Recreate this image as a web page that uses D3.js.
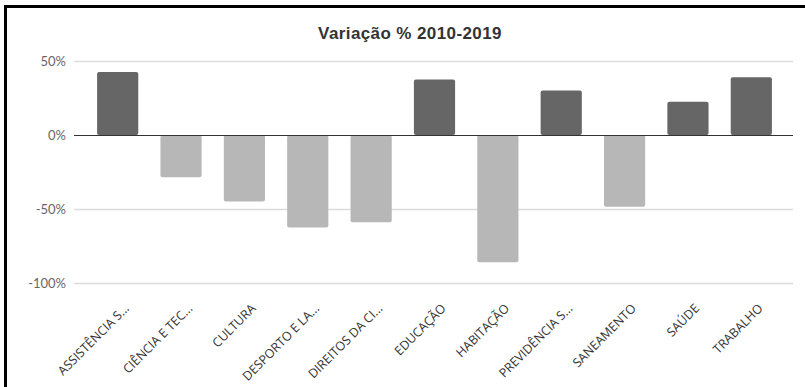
<!DOCTYPE html>
<html>
<head>
<meta charset="utf-8">
<script src="https://cdn.jsdelivr.net/npm/d3@7"></script>
<style>
	body { margin: 0; background: #fff; }
	#chart { width: 805px; height: 387px; }
</style>
</head>
<body>
<div id="chart"></div>
<script>

var categories = ["ASSISTÊNCIA S...", "CIÊNCIA E TEC...", "CULTURA", "DESPORTO E LA...", "DIREITOS DA CI...",
	"EDUCAÇÃO", "HABITAÇÃO", "PREVIDÊNCIA S...", "SANEAMENTO", "SAÚDE", "TRABALHO"];
var values = [42.5, -28.5, -45, -62.5, -59, 37.5, -86, 30, -48.5, 22.5, 39];
var yTicks = [50, 0, -50, -100];
var title = "Variação % 2010-2019";

var options = {
	width: 805, height: 387,
	plot: { left: 74, right: 793, top: 61, bottom: 283 },
	band: { left: 86, right: 783 }
};

var svg = d3.select("#chart").append("svg")
	.attr("width", options.width)
	.attr("height", options.height);

// frame (top + left only)
svg.append("line")
	.attr("x1", 4).attr("y1", 6.5).attr("x2", options.width).attr("y2", 6.5)
	.attr("stroke", "#000").attr("stroke-width", 3);
svg.append("line")
	.attr("x1", 5.5).attr("y1", 5).attr("x2", 5.5).attr("y2", options.height)
	.attr("stroke", "#000").attr("stroke-width", 3);

var x = d3.scaleBand()
	.domain(categories)
	.range([options.band.left, options.band.right])
	.paddingInner(0.35)
	.paddingOuter(0.175);

var y = d3.scaleLinear()
	.domain([-100, 50])
	.range([options.plot.bottom, options.plot.top]);

// title
svg.append("text")
	.attr("x", 410)
	.attr("y", 39)
	.attr("text-anchor", "middle")
	.style("font", "bold 17px 'Liberation Sans', Arial, sans-serif")
	.style("letter-spacing", "0.4px")
	.style("fill", "#333")
	.text(title);

// grid lines
svg.append("g")
	.selectAll("line")
	.data(yTicks.filter(function(d) { return d !== 0; }))
	.enter().append("line")
	.attr("x1", options.plot.left)
	.attr("x2", options.plot.right)
	.attr("y1", function(d) { return Math.round(y(d)) + 0.5; })
	.attr("y2", function(d) { return Math.round(y(d)) + 0.5; })
	.attr("stroke", "#dcdcdc")
	.attr("stroke-width", 1.5);

// y axis labels
svg.append("g")
	.selectAll("text")
	.data(yTicks)
	.enter().append("text")
	.attr("x", 66)
	.attr("y", function(d) { return y(d); })
	.attr("dy", "0.35em")
	.attr("text-anchor", "end")
	.style("font", "13px Lato, sans-serif")
	.style("fill", "#666")
	.text(function(d) { return d + "%"; });

// bars
svg.append("g")
	.selectAll("rect")
	.data(values)
	.enter().append("rect")
	.attr("x", function(d, i) { return x(categories[i]); })
	.attr("width", x.bandwidth())
	.attr("y", function(d) { return y(Math.max(d, 0)); })
	.attr("height", function(d) { return Math.abs(y(d) - y(0)); })
	.attr("rx", 2)
	.style("fill", function(d) { return d >= 0 ? "#666666" : "#b7b7b7"; });

// zero line
svg.append("line")
	.attr("x1", options.plot.left)
	.attr("x2", options.plot.right)
	.attr("y1", Math.round(y(0)) + 0.5)
	.attr("y2", Math.round(y(0)) + 0.5)
	.attr("stroke", "#333")
	.attr("stroke-width", 1);

// x labels, rotated
svg.append("g")
	.selectAll("text")
	.data(categories)
	.enter().append("text")
	.attr("transform", function(d) {
		return "translate(" + (x(d) + x.bandwidth() / 2 + 6) + "," + 303 + ") rotate(-45)";
	})
	.attr("text-anchor", "end")
	.attr("dy", "0.7em")
	.style("font", "12.5px 'Open Sans', sans-serif")
	.style("fill", "#333")
	.text(function(d) { return d; });

</script>
</body>
</html>
